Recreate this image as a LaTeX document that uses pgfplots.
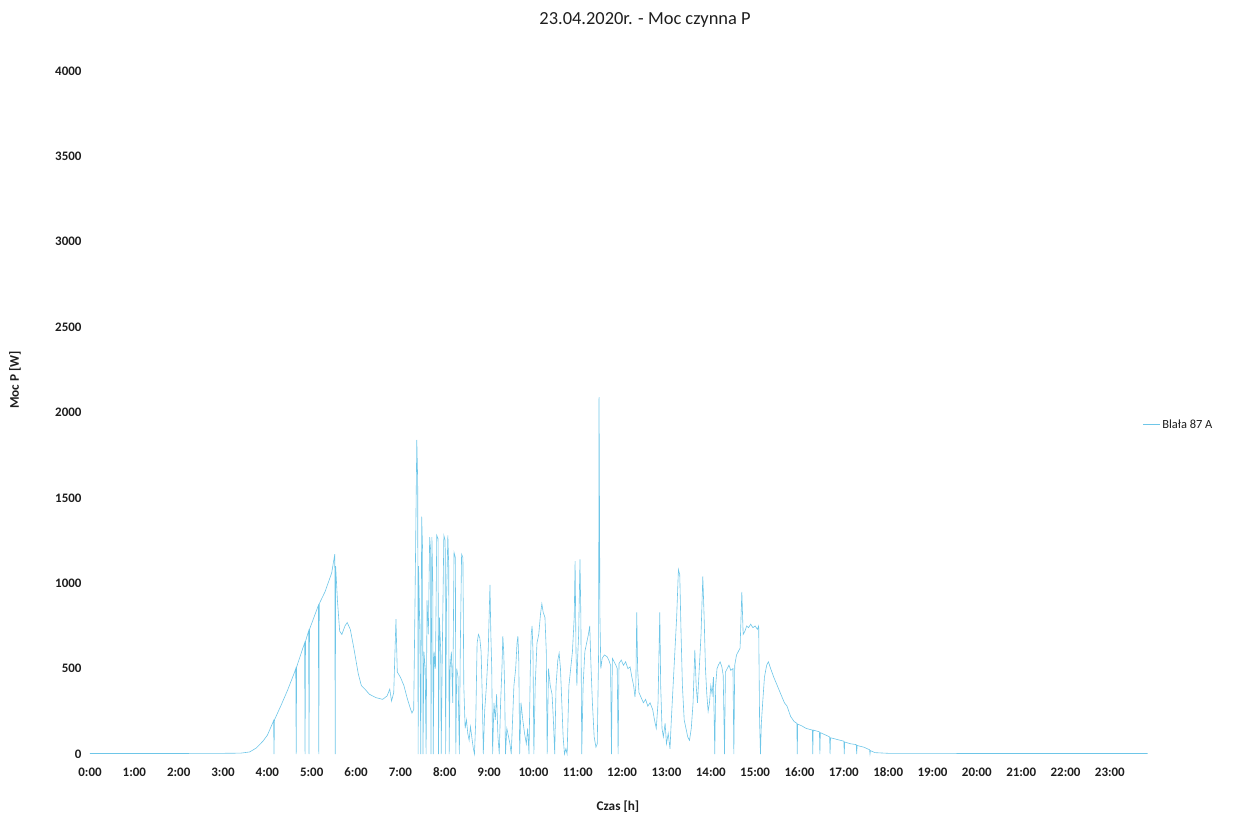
\documentclass[border=0pt]{standalone}
\usepackage{pgfplots}
\pgfplotsset{compat=1.18}
\usepackage{fontspec}
\setmainfont{Carlito}
\definecolor{linecol}{RGB}{110,198,232}
\definecolor{txt}{RGB}{30,30,30}
\begin{document}
\begin{tikzpicture}
\begin{axis}[
  scale only axis,
  width=1058bp, height=683bp,
  xmin=0, xmax=23.86,
  ymin=0, ymax=4000,
  axis line style={draw=none},
  tick style={draw=none},
  xtick={0,1,...,23},
  xticklabels={0:00,1:00,2:00,3:00,4:00,5:00,6:00,7:00,8:00,9:00,10:00,11:00,12:00,13:00,14:00,15:00,16:00,17:00,18:00,19:00,20:00,21:00,22:00,23:00},
  ytick={0,500,...,4000},
  /pgf/number format/assume math mode=true,
  /pgf/number format/.cd, 1000 sep={}, /pgfplots/.cd,
  ticklabel style={font=\fontsize{13}{15}\selectfont\bfseries, text=txt},
  yticklabel style={xshift=-5bp},
  xticklabel style={text height=9bp, text depth=0bp, yshift=-10bp},
  title={23.04.2020r. - Moc czynna P},
  title style={font=\fontsize{18.5}{20}\selectfont, text=txt, at={(axis description cs:0.5246,1.066)}, anchor=center},
  xlabel={Czas [h]},
  xlabel style={font=\fontsize{13.3}{15}\selectfont\bfseries, text=txt, at={(axis description cs:0.499,-0.0776)}, anchor=center},
  ylabel={Moc P [W]},
  ylabel style={font=\fontsize{13.3}{15}\selectfont\bfseries, text=txt, at={(axis description cs:-0.0709,0.5476)}, anchor=center, rotate=0},
  legend style={at={(axis description cs:0.992,0.482)}, anchor=west, draw=none, fill=none, font=\fontsize{12.5}{14}\selectfont, text=txt},
  legend cell align=left,
  clip=false,
]
\addplot[linecol, line width=0.6bp] coordinates {
(0,3) (1,3) (2,3) (3,4) (3.4,5)
(3.6,12) (3.75,35) (3.9,75) (4.0,110) (4.1,170) (4.14,195) (4.15,0) (4.16,200) (4.3,280) (4.45,370) (4.6,470) (4.64,500) (4.65,0) (4.66,510) (4.8,620) (4.84,650) (4.85,0) (4.86,660) (4.93,720) (4.94,0) (4.95,730) (5.05,800) (5.15,870) (5.16,0) (5.17,880) (5.3,950) (5.45,1060) (5.52,1170) (5.53,0) (5.54,1100) (5.58,900) (5.63,720) (5.68,700) (5.75,750) (5.8,770) (5.87,730) (5.95,620) (6.05,470) (6.12,400) (6.2,380) (6.3,350) (6.45,330) (6.6,320) (6.7,340) (6.76,380) (6.8,310) (6.85,360) (6.9,790) (6.93,480) (7.0,450) (7.08,400) (7.15,330) (7.22,270) (7.26,240)
(7.30,260) (7.33,900) (7.37,1840) (7.39,1600) (7.40,0) (7.41,1100) (7.44,700) (7.46,0) (7.48,1390) (7.50,1200) (7.51,0) (7.53,600) (7.56,500) (7.58,0) (7.60,900) (7.63,700) (7.66,1270) (7.68,1200) (7.69,0) (7.71,1270) (7.73,1000) (7.74,0) (7.76,600) (7.79,500) (7.82,1280) (7.85,1260) (7.86,0) (7.88,800) (7.91,600) (7.92,0) (7.95,700) (7.98,1280) (8.01,1250) (8.02,0) (8.04,900) (8.07,1280) (8.09,1100) (8.10,0) (8.12,500) (8.15,600) (8.18,300) (8.21,1180) (8.24,1150) (8.25,0) (8.27,500) (8.30,450) (8.33,0) (8.35,600) (8.38,1170) (8.41,1150) (8.43,400) (8.46,150) (8.49,200) (8.52,120) (8.55,80) (8.58,160) (8.61,100) (8.64,40) (8.67,0) (8.70,200) (8.73,650) (8.76,700) (8.79,680) (8.82,600) (8.85,300) (8.87,0) (8.90,250) (8.94,400) (8.98,600)
(9.02,990) (9.04,700) (9.06,500) (9.08,0) (9.11,300) (9.14,200) (9.17,350) (9.20,100) (9.23,0) (9.26,300) (9.29,500) (9.31,690) (9.33,600) (9.35,400) (9.37,0) (9.40,150) (9.44,100) (9.47,60) (9.50,0) (9.53,200) (9.56,400) (9.60,500) (9.63,650) (9.65,690) (9.67,550) (9.69,0) (9.72,300) (9.76,200) (9.80,120) (9.84,60) (9.87,150) (9.90,0) (9.93,500) (9.95,700) (9.97,750) (9.99,600) (10.01,0) (10.04,400) (10.08,650) (10.12,700) (10.16,820) (10.19,880) (10.22,830) (10.26,800) (10.29,600) (10.31,0) (10.34,500) (10.38,400) (10.42,350) (10.45,200) (10.48,0) (10.51,400) (10.55,550) (10.58,590) (10.61,500) (10.64,300) (10.67,100) (10.70,0) (10.73,30) (10.76,0) (10.80,400) (10.84,500) (10.88,600) (10.92,800) (10.94,1130) (10.96,600) (10.98,400)
(11.00,580) (11.02,700) (11.05,1140) (11.07,800) (11.09,0) (11.12,400) (11.16,600) (11.20,650) (11.24,700) (11.27,750) (11.30,500) (11.33,300) (11.37,100) (11.41,40) (11.44,60) (11.47,600) (11.48,2090) (11.50,800) (11.52,500) (11.55,560) (11.60,580) (11.66,570) (11.70,550) (11.74,520) (11.76,0) (11.78,560) (11.82,540) (11.86,520) (11.89,500) (11.91,0) (11.93,530) (11.98,550)
(12.03,520) (12.08,540) (12.13,500) (12.18,510) (12.22,450) (12.26,400) (12.29,334) (12.31,400) (12.33,830) (12.35,500) (12.38,360) (12.43,330) (12.48,300) (12.53,320) (12.58,280) (12.63,300) (12.69,260) (12.73,200) (12.77,150) (12.81,300) (12.85,830) (12.87,400) (12.90,150) (12.93,100) (12.97,180)
(13.00,60) (13.04,120) (13.08,30) (13.11,200) (13.15,400) (13.19,600) (13.23,800) (13.27,1080) (13.30,1050) (13.33,700) (13.36,400) (13.40,200) (13.44,150) (13.48,100) (13.52,80) (13.56,150) (13.60,300) (13.64,610) (13.67,400) (13.70,300) (13.74,500) (13.78,700) (13.82,1040) (13.85,800) (13.88,500) (13.91,350) (13.94,250) (13.97,300)
(14.00,400) (14.03,350) (14.06,450) (14.09,0) (14.11,400) (14.14,500) (14.17,520) (14.21,540) (14.25,510) (14.28,460) (14.31,0) (14.33,480) (14.37,500) (14.41,520) (14.45,490) (14.50,500) (14.52,0) (14.54,520) (14.58,580) (14.62,600) (14.66,620) (14.70,950) (14.73,700) (14.77,720) (14.81,750) (14.85,740) (14.90,760) (14.95,740)
(15.00,750) (15.05,730) (15.08,750) (15.10,200) (15.12,0) (15.14,180) (15.17,300) (15.21,450) (15.26,520) (15.30,540) (15.35,500) (15.42,450) (15.50,400) (15.58,350) (15.66,300) (15.72,280) (15.80,220) (15.88,190) (15.94,180) (15.95,0) (15.96,175)
(16.05,165) (16.15,150) (16.29,140) (16.30,0) (16.31,140) (16.45,130) (16.46,0) (16.47,125) (16.60,110) (16.68,100) (16.69,0) (16.70,95) (16.85,85)
(17.00,75) (17.01,0) (17.02,70) (17.15,60) (17.28,55) (17.29,0) (17.30,50) (17.45,40) (17.58,25) (17.59,0) (17.60,20) (17.70,8)
(18.0,4) (20,3) (22,3) (23.85,3)
};
\addlegendentry{Blała 87 A}
\path[use as bounding box] (axis cs:0,0) ++(-90bp,-63bp) rectangle ++(1255bp,817bp);
\end{axis}
\end{tikzpicture}
\end{document}
